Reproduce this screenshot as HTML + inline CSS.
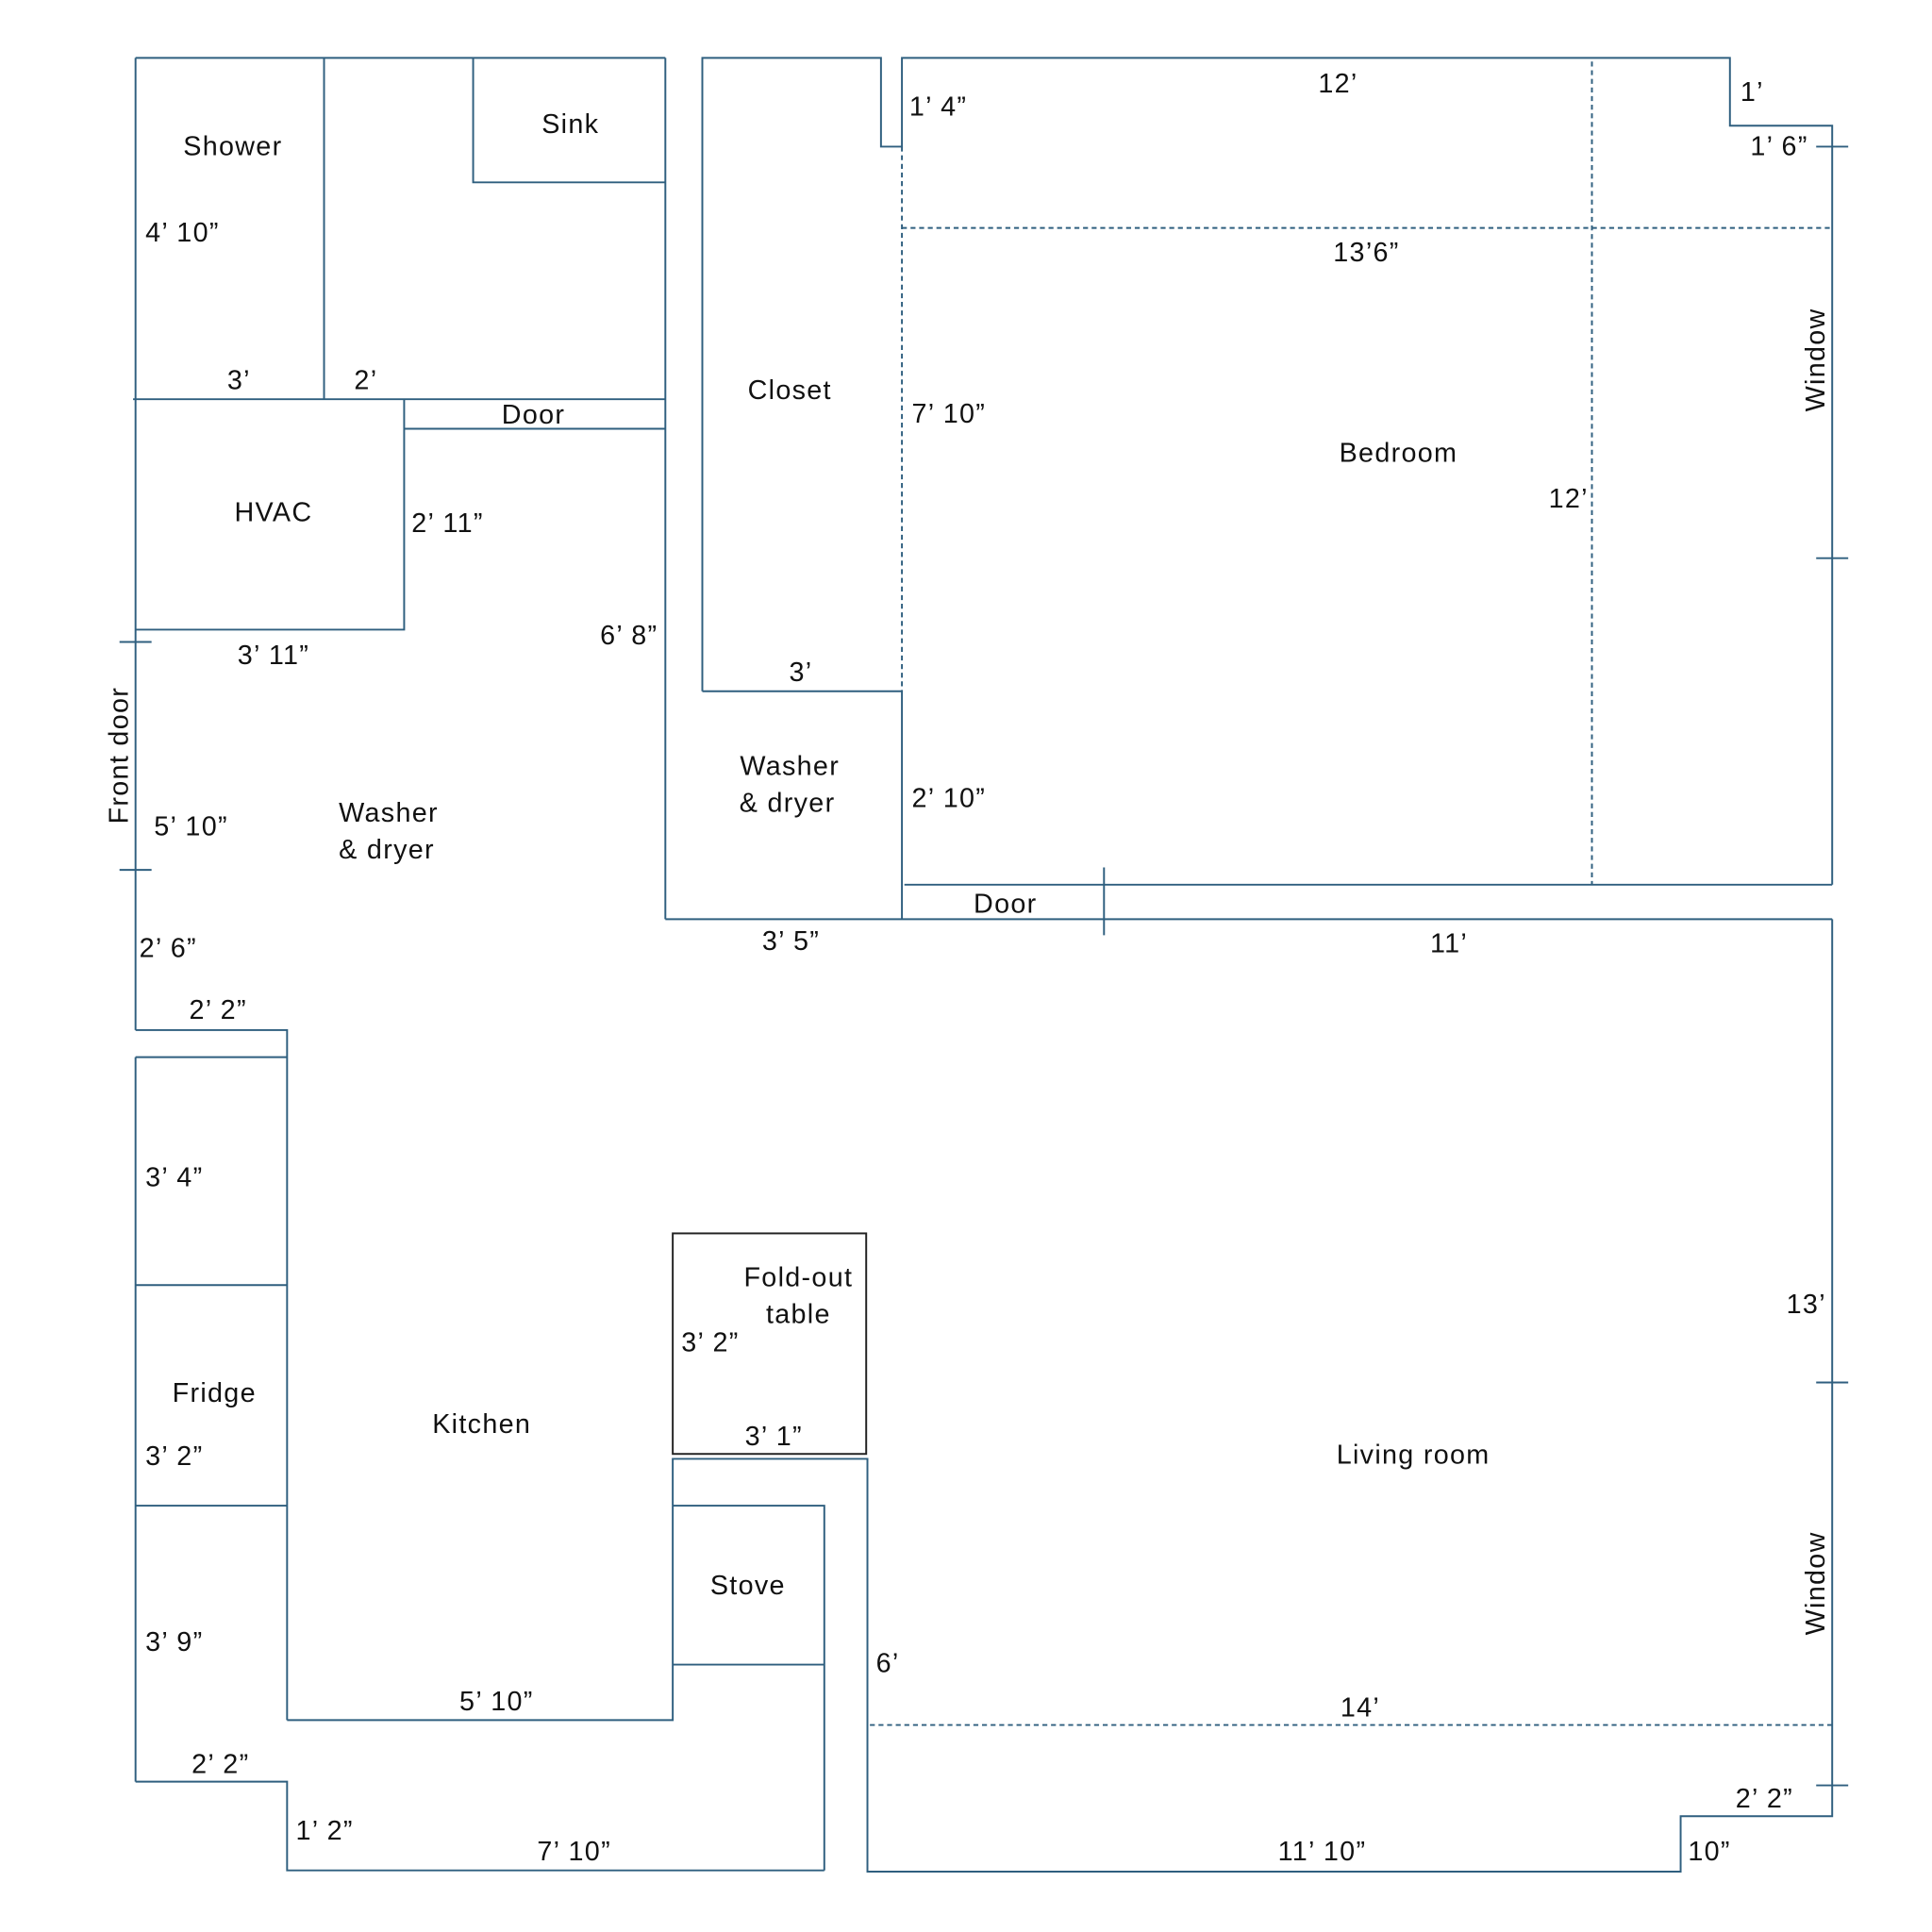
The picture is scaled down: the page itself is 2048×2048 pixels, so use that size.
<!DOCTYPE html>
<html><head><meta charset="utf-8"><style>
html,body{margin:0;padding:0;background:#fff}
svg{display:block}
text{font-family:"Liberation Sans",sans-serif;font-size:22px;letter-spacing:1px;fill:#111;dominant-baseline:central}
.m{text-anchor:middle}
</style></head><body>
<svg width="2048" height="2048" viewBox="0 0 1568 1568" xmlns="http://www.w3.org/2000/svg">
<g stroke="#2f5f7f" stroke-width="1.5" fill="none">
<path d="M110 47H540M110 47V836M263 47V324M384 47V148H540M540 47V746M108 324H540M328 348H540M328 324V511H110"/>
<path d="M97 521H123M97 706H123"/>
<path d="M110 836H233V858M110 858H233M110 858V1446M233 858V1396M110 1043H233M110 1222H233"/>
<path d="M110 1446H233V1518H669M233 1396H546V1184H704V1519H1364V1474H1487V746M546 1222H669V1518M546 1351H669"/>
<path d="M1474 1122H1500M1474 1449H1500M1474 119H1500M1474 453H1500"/>
<path d="M540 746H1487M896 704V759"/>
<path d="M570 561V47H715V119H732V47H1404V102H1487V718M570 561H732V746M734 718H1487"/>
<path d="M732 119V561M732 185H1487M1292 50V718M706 1400H1487" stroke-dasharray="4 3"/>
</g>
<rect x="546" y="1001" width="157" height="179" fill="none" stroke="#222" stroke-width="1.5"/>
<text class="m" x="189" y="119">Shower</text>
<text class="m" x="463" y="101">Sink</text>
<text x="118" y="189">4’ 10”</text>
<text class="m" x="194" y="309">3’</text>
<text class="m" x="297" y="309">2’</text>
<text class="m" x="433" y="337">Door</text>
<text class="m" x="222" y="416">HVAC</text>
<text x="334" y="425">2’ 11”</text>
<text class="m" x="222" y="532">3’ 11”</text>
<text x="487" y="516">6’ 8”</text>
<text class="m" transform="translate(97,613) rotate(-90)" x="0" y="0">Front door</text>
<text x="125" y="671">5’ 10”</text>
<text x="275" y="660">Washer</text>
<text x="275" y="690">&amp; dryer</text>
<text x="113" y="770">2’ 6”</text>
<text class="m" x="177" y="820">2’ 2”</text>
<text x="118" y="956">3’ 4”</text>
<text class="m" x="174" y="1131">Fridge</text>
<text x="118" y="1182">3’ 2”</text>
<text class="m" x="391" y="1156">Kitchen</text>
<text x="118" y="1333">3’ 9”</text>
<text class="m" x="403" y="1381">5’ 10”</text>
<text class="m" x="179" y="1432">2’ 2”</text>
<text x="240" y="1486">1’ 2”</text>
<text class="m" x="466" y="1503">7’ 10”</text>
<text class="m" x="648" y="1037">Fold-out</text>
<text class="m" x="648" y="1067">table</text>
<text x="553" y="1090">3’ 2”</text>
<text class="m" x="628" y="1166">3’ 1”</text>
<text class="m" x="607" y="1287">Stove</text>
<text x="711" y="1350">6’</text>
<text class="m" x="1147" y="1181">Living room</text>
<text class="m" x="1104" y="1386">14’</text>
<text class="m" x="1466" y="1059">13’</text>
<text class="m" transform="translate(1474,1285) rotate(-90)" x="0" y="0">Window</text>
<text class="m" transform="translate(1474,292) rotate(-90)" x="0" y="0">Window</text>
<text class="m" x="1432" y="1460">2’ 2”</text>
<text class="m" x="1073" y="1503">11’ 10”</text>
<text x="1370" y="1503">10”</text>
<text class="m" x="1176" y="766">11’</text>
<text class="m" x="816" y="734">Door</text>
<text class="m" x="642" y="764">3’ 5”</text>
<text class="m" x="641" y="622">Washer</text>
<text class="m" x="639" y="652">&amp; dryer</text>
<text x="740" y="648">2’ 10”</text>
<text class="m" x="650" y="546">3’</text>
<text class="m" x="641" y="317">Closet</text>
<text x="740" y="336">7’ 10”</text>
<text class="m" x="1135" y="368">Bedroom</text>
<text class="m" x="1273" y="405">12’</text>
<text class="m" x="1109" y="205">13’6”</text>
<text class="m" x="1086" y="68">12’</text>
<text x="738" y="87">1’ 4”</text>
<text class="m" x="1422" y="75">1’</text>
<text class="m" x="1444" y="119">1’ 6”</text>
</svg>
</body></html>
